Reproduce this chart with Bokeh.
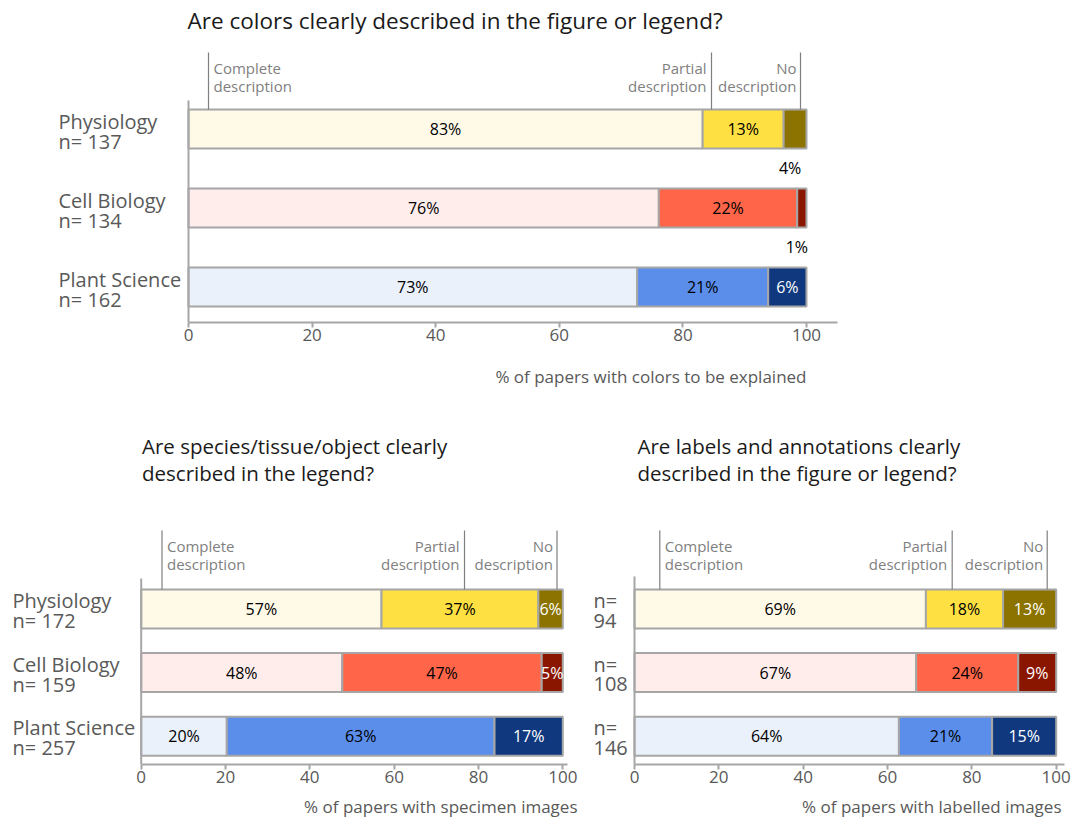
from bokeh.plotting import figure
from bokeh.models import Range1d, FixedTicker, Title
from bokeh.layouts import column, row
from bokeh.core.properties import value
from bokeh.embed import file_html
from bokeh.resources import INLINE

# ---------------- data ----------------
groups = ["Physiology", "Cell Biology", "Plant Science"]
x_ticks = [0, 20, 40, 60, 80, 100]
segment_names = [["Complete", "description"], ["Partial", "description"], ["No", "description"]]

# Chart 1: colors
color_title = ["Are colors clearly described in the figure or legend?"]
color_n = [137, 134, 162]
color_complete = [83.2, 76.1, 72.6]
color_partial = [13.1, 22.4, 21.2]
color_none = [3.7, 1.5, 6.2]
color_complete_pct = [83, 76, 73]
color_partial_pct = [13, 22, 21]
color_none_pct = [4, 1, 6]
color_xlabel = "% of papers with colors to be explained"

# Chart 2: species / tissue / object
spec_title = ["Are species/tissue/object clearly", "described in the legend?"]
spec_n = [172, 159, 257]
spec_complete = [57.0, 47.7, 20.3]
spec_partial = [37.2, 47.3, 63.5]
spec_none = [5.8, 5.0, 16.2]
spec_complete_pct = [57, 48, 20]
spec_partial_pct = [37, 47, 63]
spec_none_pct = [6, 5, 17]
spec_xlabel = "% of papers with specimen images"

# Chart 3: labels and annotations
lab_title = ["Are labels and annotations clearly", "described in the figure or legend?"]
lab_n = [94, 108, 146]
lab_complete = [69.1, 66.8, 62.7]
lab_partial = [18.3, 24.2, 22.1]
lab_none = [12.6, 9.0, 15.2]
lab_complete_pct = [69, 67, 64]
lab_partial_pct = [18, 24, 21]
lab_none_pct = [13, 9, 15]
lab_xlabel = "% of papers with labelled images"

# ---------------- style ----------------
FONT = "Open Sans"
LIGHT = ["#FFF9E8", "#FFEDEB", "#EAF1FB"]
MID = ["#FFE043", "#FF6649", "#5A8EEA"]
DARK = ["#8C7300", "#8B1600", "#0F387F"]
AX_GRAY = "#A6A6A6"
TXT_GRAY = "#595959"
ANN_GRAY = "#7F7F7F"


def build(g, title_lines, cat_lines, comp, part, none, comp_pct, part_pct, none_pct, xlabel):
    W, H = g["W"], g["H"]
    x0, sc = g["x0"], g["scale"]
    c0, sp = g["c0"], g["sp"]
    fb = g["frame_bottom"]

    def X(px):
        return (px - x0) / sc

    def Y(py):
        return (py - c0) / sp

    p = figure(width=W, height=H, output_backend="svg", toolbar_location=None,
               x_range=Range1d(X(0), X(W)), y_range=Range1d(Y(fb), Y(0)),
               y_axis_location=None, min_border_left=0, min_border_right=0,
               min_border_top=0, min_border_bottom=H - fb,
               outline_line_color=None, background_fill_color="white",
               border_fill_color="white")
    p.xgrid.visible = False
    p.ygrid.visible = False

    ax = p.xaxis[0]
    ax.bounds = (0, g["axis_end"])
    ax.ticker = FixedTicker(ticks=x_ticks)
    ax.axis_line_color = AX_GRAY
    ax.axis_line_width = 2
    ax.major_tick_line_color = AX_GRAY
    ax.major_tick_line_width = 2
    ax.major_tick_in = 0
    ax.major_tick_out = 5
    ax.minor_tick_line_color = None
    ax.major_label_text_font = FONT
    ax.major_label_text_font_size = "17px"
    ax.major_label_text_color = TXT_GRAY
    ax.major_label_standoff = 1
    ax.major_label_text_line_height = 0.8

    # axis title, right-aligned under the end of the scale
    p.add_layout(Title(text=xlabel, align="right", offset=W - g["xlabel_right_px"],
                       vertical_align="bottom", standoff=g["xlabel_standoff"],
                       text_font=FONT, text_font_size="17px", text_font_style="normal",
                       text_line_height=0.8, text_color=TXT_GRAY), "below")

    ys = list(range(len(comp)))
    bh = g["bar_h"] / sp
    left2 = comp
    right2 = [a + b for a, b in zip(comp, part)]
    right3 = [a + b + c for a, b, c in zip(comp, part, none)]
    for lefts, rights, cols in (([0] * len(comp), comp, LIGHT),
                                (left2, right2, MID), (right2, right3, DARK)):
        p.hbar(y=ys, left=lefts, right=rights, height=bh, fill_color=cols,
               line_color=AX_GRAY, line_width=2)

    # value labels
    lx, ly, lt, lc = [], [], [], []
    segs = [([0] * len(comp), comp, comp_pct, False),
            (left2, right2, part_pct, False),
            (right2, right3, none_pct, True)]
    for lefts, rights, pcts, dark in segs:
        for i, (a, b, v) in enumerate(zip(lefts, rights, pcts)):
            cx = (a + b) / 2
            if v < 5:
                lx.append(cx - 5 / sc)
                ly.append(i + g["bar_h"] / sp)
                lc.append("#000000")
            else:
                lx.append(cx)
                ly.append(i)
                lc.append("#FFFFFF" if dark else "#000000")
            lt.append(f"{v}%")
    p.text(x=lx, y=ly, text=lt, text_color=lc, text_font=value(FONT),
           text_font_size="16px", text_align="center", text_baseline="middle")

    # y axis line
    p.segment(x0=[0], y0=[Y(g["yaxis_top"])], x1=[0], y1=[Y(fb)],
              line_color=AX_GRAY, line_width=2)

    # category labels (two lines each)
    for k in range(2):
        p.text(x=[X(g["cat_x"])] * len(cat_lines), y=[i + g["cat_dy"][k] / sp for i in ys],
               text=[cl[k] for cl in cat_lines], text_color=TXT_GRAY, text_font=value(FONT),
               text_font_size="20px", text_align="left", text_baseline="middle")

    # segment annotations
    axs = [X(v) for v in g["ann_x"]]
    p.segment(x0=axs, y0=[Y(g["ann_top"])] * 3, x1=axs, y1=[-bh / 2] * 3,
              line_color=ANN_GRAY, line_width=1.2)
    for k in range(2):
        p.text(x=[axs[0] + 5 / sc, axs[1] - 5 / sc, axs[2] - 4 / sc],
               y=[Y(g["ann_text_y"][k])] * 3, text=[s[k] for s in segment_names],
               text_align=["left", "right", "right"], text_baseline="middle",
               text_color=ANN_GRAY, text_font=value(FONT), text_font_size="15px")

    # titles
    p.text(x=[X(g["title_x"])] * len(title_lines), y=[Y(v) for v in g["title_ys"]],
           text=title_lines, text_color="#1A1A1A", text_font=value(FONT),
           text_font_size=g["title_size"], text_align="left", text_baseline="middle")
    return p


g_top = dict(W=1072, H=408, frame_bottom=322, x0=188, scale=6.18, c0=128.5, sp=79,
             bar_h=39, axis_end=105, title_x=187, title_ys=[20], title_size="22.5px",
             cat_x=58, cat_dy=[-7.5, 12.5],
             ann_x=[208, 711, 800], ann_top=52, ann_text_y=[67, 85], yaxis_top=100,
             xlabel_right_px=806, xlabel_standoff=39)
g_bl = dict(W=578, H=417, frame_bottom=356, x0=140.7, scale=4.216, c0=200.5, sp=63.6,
            bar_h=39, axis_end=101.1, title_x=141.5, title_ys=[37, 64], title_size="20.5px",
            cat_x=12, cat_dy=[-8.5, 11.5], ann_x=[161.5, 464, 556.5], ann_top=122,
            ann_text_y=[137, 155], yaxis_top=170, xlabel_right_px=577, xlabel_standoff=14)
g_br = dict(W=494, H=417, frame_bottom=356, x0=56, scale=4.217, c0=200.5, sp=63.6,
            bar_h=39, axis_end=102, title_x=59, title_ys=[37, 64], title_size="20.5px",
            cat_x=15, cat_dy=[-8.5, 11.5], ann_x=[81.3, 373.7, 468.7], ann_top=122,
            ann_text_y=[137, 155], yaxis_top=168, xlabel_right_px=483, xlabel_standoff=14)

p1 = build(g_top, color_title, [[g, f"n= {n}"] for g, n in zip(groups, color_n)],
           color_complete, color_partial, color_none,
           color_complete_pct, color_partial_pct, color_none_pct, color_xlabel)
p2 = build(g_bl, spec_title, [[g, f"n= {n}"] for g, n in zip(groups, spec_n)],
           spec_complete, spec_partial, spec_none,
           spec_complete_pct, spec_partial_pct, spec_none_pct, spec_xlabel)
p3 = build(g_br, lab_title, [["n=", f"{n}"] for n in lab_n],
           lab_complete, lab_partial, lab_none,
           lab_complete_pct, lab_partial_pct, lab_none_pct, lab_xlabel)

layout = column(p1, row(p2, p3, spacing=0), spacing=0)
open("out.html", "w").write(file_html(layout, INLINE, title="Figure description quality"))
